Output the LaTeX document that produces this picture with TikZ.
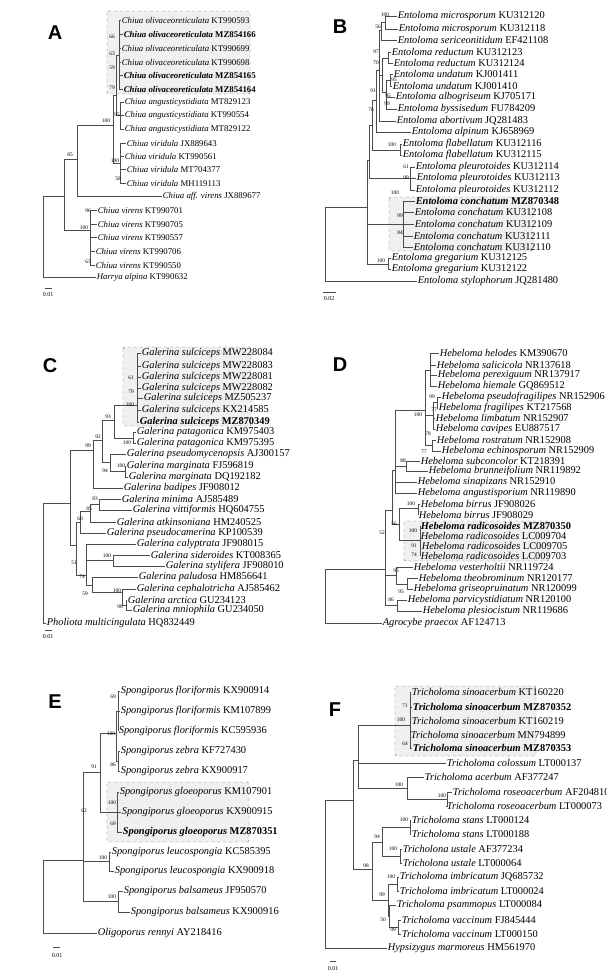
\documentclass[tikz,border=0pt]{standalone}
\usepackage{fontspec}
\setmainfont{Liberation Serif}
\newfontfamily\panelfont{Liberation Sans}
\usetikzlibrary{positioning}

\newcommand\tipsize{\fontsize{8.8}{9}\selectfont}
\newcommand\tip[5]{\node[leaf] (#1) at (#2,#3) {\textit{#4} #5};}
\newcommand\tipb[5]{\node[leaf, font=\tipsize\bfseries] (#1) at (#2,#3) {\textit{#4} #5};}
\newcommand\clade[2]{\foreach \c in {#2} {\draw[br] (#1) |- (\c);}}

\begin{document}
\begin{tikzpicture}[x=1pt, y=-1pt,
    leaf/.style={anchor=west, inner sep=0.6pt, font=\tipsize},
    bs/.style={inner sep=0pt, font=\fontsize{5.4}{6}\selectfont},
    br/.style={draw=black!70, line width=0.5pt},
    hilite/.style={draw=black!60, dashed, fill=black!6, rounded corners=1.5pt},
    letter/.style={font=\panelfont\bfseries\fontsize{20}{20}\selectfont}]
    \useasboundingbox (0,0) rectangle (606,978);

    % boxes first
    \draw[hilite] (107,11) rectangle (250,94);
    \draw[hilite] (389,197) rectangle (533,251);
    \draw[hilite] (123,347) rectangle (251,426);
    \draw[hilite] (404,521) rectangle (549,561);
    \draw[hilite] (107,782) rectangle (249,842);
    \draw[hilite] (395,686) rectangle (536,756);

    % Panel A
    \node[letter] (lA) at (55,33) {A};
    \tip{a1}{121}{20}{Chiua olivaceoreticulata}{KT990593}
    \tipb{a2}{123}{34}{Chiua olivaceoreticulata}{MZ854166}
    \tip{a3}{121}{48}{Chiua olivaceoreticulata}{KT990699}
    \tip{a4}{121}{62}{Chiua olivaceoreticulata}{KT990698}
    \tipb{a5}{123}{75}{Chiua olivaceoreticulata}{MZ854165}
    \tipb{a6}{123}{89}{Chiua olivaceoreticulata}{MZ854164}
    \tip{a7}{124}{102}{Chiua angusticystidiata}{MT829123}
    \tip{a8}{124}{115}{Chiua angusticystidiata}{KT990554}
    \tip{a9}{124}{129}{Chiua angusticystidiata}{MT829122}
    \tip{a10}{126}{143}{Chiua viridula}{JX889643}
    \tip{a11}{124}{156}{Chiua viridula}{KT990561}
    \tip{a12}{126}{169}{Chiua viridula}{MT704377}
    \tip{a13}{126}{183}{Chiua viridula}{MH119113}
    \tip{a14}{162}{196}{Chiua aff. virens}{JX889677}
    \tip{a15}{97}{210}{Chiua virens}{KT990701}
    \tip{a16}{97}{224}{Chiua virens}{KT990705}
    \tip{a17}{97}{237}{Chiua virens}{KT990557}
    \tip{a18}{95}{251}{Chiua virens}{KT990706}
    \tip{a19}{95}{265}{Chiua virens}{KT990550}
    \tip{a20}{96}{277}{Harrya alpina}{KT990632}
    \coordinate (cA1) at (119,55);
    \coordinate (cA2) at (120,115);
    \coordinate (cA3) at (116,95);
    \coordinate (cA4) at (120,163);
    \coordinate (cA5) at (113,125);
    \coordinate (cA6) at (77,159);
    \coordinate (cA7) at (90,230);
    \coordinate (cA8) at (64,196);
    \coordinate (cA0) at (43,237);
    \clade{cA1}{a1,a2,a3,a4,a5,a6}
    \clade{cA2}{a7,a8,a9}
    \clade{cA3}{cA1,cA2}
    \clade{cA4}{a10,a11,a12,a13}
    \clade{cA5}{cA3,cA4}
    \clade{cA6}{cA5,a14}
    \clade{cA7}{a15,a16,a17,a18,a19}
    \clade{cA8}{cA6,cA7}
    \clade{cA0}{cA8,a20}
    \node[bs] at (112,37) {66};
    \node[bs] at (112,54) {63};
    \node[bs] at (112,68) {59};
    \node[bs] at (112,88) {79};
    \node[bs] at (117,115) {95};
    \node[bs] at (106,121) {100};
    \node[bs] at (115,161) {100};
    \node[bs] at (118,179) {58};
    \node[bs] at (70,155) {85};
    \node[bs] at (88,211) {96};
    \node[bs] at (84,228) {100};
    \node[bs] at (88,262) {63};
    \draw[br] (45,288) -- (52,288);
    \node[bs, font=\fontsize{6}{6}\selectfont] at (48,295) {0.01};

    % Panel B
    \renewcommand\tipsize{\fontsize{10.4}{11}\selectfont}
    \node[letter] (lB) at (340,27) {B};
    \tip{b1}{397}{16}{Entoloma microsporum}{KU312120}
    \tip{b2}{398}{29}{Entoloma microsporum}{KU312118}
    \tip{b3}{397}{40}{Entoloma sericeonitidum}{EF421108}
    \tip{b4}{391}{52}{Entoloma reductum}{KU312123}
    \tip{b5}{393}{63}{Entoloma reductum}{KU312124}
    \tip{b6}{393}{74}{Entoloma undatum}{KJ001411}
    \tip{b7}{392}{86}{Entoloma undatum}{KJ001410}
    \tip{b8}{395}{97}{Entoloma albogriseum}{KJ705171}
    \tip{b9}{397}{109}{Entoloma byssisedum}{FU784209}
    \tip{b10}{396}{121}{Entoloma abortivum}{JQ281483}
    \tip{b11}{411}{132}{Entoloma alpinum}{KJ658969}
    \tip{b12}{402}{144}{Entoloma flabellatum}{KU312116}
    \tip{b13}{402}{155}{Entoloma flabellatum}{KU312115}
    \tip{b14}{415}{167}{Entoloma pleurotoides}{KU312114}
    \tip{b15}{416}{178}{Entoloma pleurotoides}{KU312113}
    \tip{b16}{415}{190}{Entoloma pleurotoides}{KU312112}
    \tipb{b17}{415}{201}{Entoloma conchatum}{MZ870348}
    \tip{b18}{414}{212}{Entoloma conchatum}{KU312108}
    \tip{b19}{414}{224}{Entoloma conchatum}{KU312109}
    \tip{b20}{413}{236}{Entoloma conchatum}{KU312111}
    \tip{b21}{413}{247}{Entoloma conchatum}{KU312110}
    \tip{b22}{391}{258}{Entoloma gregarium}{KU312125}
    \tip{b23}{391}{269}{Entoloma gregarium}{KU312122}
    \tip{b24}{417}{281}{Entoloma stylophorum}{JQ281480}
    \coordinate (cB1) at (385,22);
    \coordinate (cB2) at (381,30);
    \coordinate (cB3) at (388,58);
    \coordinate (cB4) at (390,80);
    \coordinate (cB5) at (386,92);
    \coordinate (cB6) at (382,75);
    \coordinate (cB7) at (379,70);
    \coordinate (cB8) at (376,100);
    \coordinate (cB9) at (400,150);
    \coordinate (cB10) at (372,125);
    \coordinate (cB11) at (410,178);
    \coordinate (cB12) at (403,224);
    \coordinate (cB13) at (369,160);
    \coordinate (cB14) at (367,197);
    \coordinate (cB15) at (388,264);
    \coordinate (cB16) at (367,207);
    \coordinate (cB0) at (325,207);
    \clade{cB1}{b1,b2}
    \clade{cB2}{cB1,b3}
    \clade{cB3}{b4,b5}
    \clade{cB4}{b6,b7}
    \clade{cB5}{cB4,b8,b9}
    \clade{cB6}{cB3,cB5}
    \clade{cB7}{cB2,cB6,b10}
    \clade{cB8}{cB7,b11}
    \clade{cB9}{b12,b13}
    \clade{cB10}{cB8,cB9}
    \clade{cB11}{b14,b15,b16}
    \clade{cB12}{b17,b18,b19,b20,b21}
    \clade{cB13}{cB10,cB11}
    \clade{cB14}{cB13,cB12}
    \clade{cB15}{b22,b23}
    \clade{cB16}{cB14,cB15}
    \clade{cB0}{cB16,b24}
    \node[bs] at (385,15) {100};
    \node[bs] at (378,27) {56};
    \node[bs] at (376,52) {97};
    \node[bs] at (376,63) {70};
    \node[bs] at (394,80) {95};
    \node[bs] at (388,96) {95};
    \node[bs] at (387,104) {99};
    \node[bs] at (373,91) {91};
    \node[bs] at (371,110) {76};
    \node[bs] at (392,145) {100};
    \node[bs] at (406,167) {61};
    \node[bs] at (406,178) {99};
    \node[bs] at (395,193) {100};
    \node[bs] at (400,216) {99};
    \node[bs] at (400,233) {84};
    \node[bs] at (381,261) {100};
    \draw[br] (323,292) -- (336,292);
    \node[bs, font=\fontsize{6}{6}\selectfont] at (329,299) {0.02};

    % Panel C
    \node[letter] (lC) at (50,366) {C};
    \tip{c1}{141}{353}{Galerina sulciceps}{MW228084}
    \tip{c2}{141}{366}{Galerina sulciceps}{MW228083}
    \tip{c3}{141}{377}{Galerina sulciceps}{MW228081}
    \tip{c4}{141}{388}{Galerina sulciceps}{MW228082}
    \tip{c5}{143}{398}{Galerina sulciceps}{MZ505237}
    \tip{c6}{141}{410}{Galerina sulciceps}{KX214585}
    \tipb{c7}{139}{422}{Galerina sulciceps}{MZ870349}
    \tip{c8}{136}{432}{Galerina patagonica}{KM975403}
    \tip{c9}{136}{443}{Galerina patagonica}{KM975395}
    \tip{c10}{126}{454}{Galerina pseudomycenopsis}{AJ300157}
    \tip{c11}{126}{466}{Galerina marginata}{FJ596819}
    \tip{c12}{128}{477}{Galerina marginata}{DQ192182}
    \tip{c13}{123}{488}{Galerina badipes}{JF908012}
    \tip{c14}{121}{499}{Galerina minima}{AJ585489}
    \tip{c15}{132}{510}{Galerina vittiformis}{HQ604755}
    \tip{c16}{116}{522}{Galerina atkinsoniana}{HM240525}
    \tip{c17}{106}{533}{Galerina pseudocamerina}{KP100539}
    \tip{c18}{136}{544}{Galerina calyptrata}{JF908015}
    \tip{c19}{150}{555}{Galerina sideroides}{KT008365}
    \tip{c20}{165}{566}{Galerina stylifera}{JF908010}
    \tip{c21}{138}{577}{Galerina paludosa}{HM856641}
    \tip{c22}{136}{589}{Galerina cephalotricha}{AJ585462}
    \tip{c23}{127}{600}{Galerina arctica}{GU234123}
    \tip{c24}{132}{610}{Galerina mniophila}{GU234050}
    \tip{c25}{46}{623}{Pholiota multicingulata}{HQ832449}
    \coordinate (cC1) at (137,405);
    \coordinate (cC2) at (133,438);
    \coordinate (cC3) at (114,420);
    \coordinate (cC4) at (125,471);
    \coordinate (cC5) at (110,462);
    \coordinate (cC6) at (102,440);
    \coordinate (cC7) at (93,450);
    \coordinate (cC8) at (99,504);
    \coordinate (cC9) at (90,511);
    \coordinate (cC10) at (80,522);
    \coordinate (cC11) at (113,560);
    \coordinate (cC12) at (86,552);
    \coordinate (cC13) at (126,605);
    \coordinate (cC14) at (122,592);
    \coordinate (cC15) at (92,585);
    \coordinate (cC16) at (86,575);
    \coordinate (cC17) at (76,545);
    \coordinate (cC18) at (70,503);
    \coordinate (cC0) at (43,503);
    \clade{cC1}{c1,c2,c3,c4,c5,c6,c7}
    \clade{cC2}{c8,c9}
    \clade{cC3}{cC1,cC2}
    \clade{cC4}{c11,c12}
    \clade{cC5}{c10,cC4}
    \clade{cC6}{cC3,cC5}
    \clade{cC7}{cC6,c13}
    \clade{cC8}{c14,c15}
    \clade{cC9}{cC8,c16}
    \clade{cC10}{cC9,c17}
    \clade{cC11}{c19,c20}
    \clade{cC12}{c18,cC11}
    \clade{cC13}{c23,c24}
    \clade{cC14}{c22,cC13}
    \clade{cC15}{c21,cC14}
    \clade{cC16}{cC12,cC15}
    \clade{cC17}{cC10,cC16}
    \clade{cC18}{cC7,cC17}
    \clade{cC0}{cC18,c25}
    \node[bs] at (131,378) {61};
    \node[bs] at (131,392) {79};
    \node[bs] at (130,405) {100};
    \node[bs] at (108,417) {93};
    \node[bs] at (127,443) {100};
    \node[bs] at (98,437) {92};
    \node[bs] at (88,446) {99};
    \node[bs] at (105,471) {94};
    \node[bs] at (121,466) {100};
    \node[bs] at (95,499) {83};
    \node[bs] at (89,509) {85};
    \node[bs] at (80,519) {60};
    \node[bs] at (74,563) {51};
    \node[bs] at (107,556) {100};
    \node[bs] at (82,577) {74};
    \node[bs] at (85,594) {59};
    \node[bs] at (117,591) {100};
    \node[bs] at (120,607) {98};
    \draw[br] (45,630) -- (52,630);
    \node[bs, font=\fontsize{6}{6}\selectfont] at (48,637) {0.01};

    % Panel D
    \node[letter] (lD) at (340,365) {D};
    \tip{d1}{439}{353}{Hebeloma helodes}{KM390670}
    \tip{d2}{436}{365}{Hebeloma salicicola}{NR137618}
    \tip{d3}{437}{375}{Hebeloma perexiguum}{NR137917}
    \tip{d4}{437}{386}{Hebeloma hiemale}{GQ869512}
    \tip{d5}{441}{397}{Hebeloma pseudofragilipes}{NR152906}
    \tip{d6}{438}{408}{Hebeloma fragilipes}{KT217568}
    \tip{d7}{435}{418}{Hebeloma limbatum}{NR152907}
    \tip{d8}{435}{429}{Hebeloma cavipes}{EU887517}
    \tip{d9}{436}{440}{Hebeloma rostratum}{NR152908}
    \tip{d10}{441}{451}{Hebeloma echinosporum}{NR152909}
    \tip{d11}{420}{461}{Hebeloma subconcolor}{KT218391}
    \tip{d12}{428}{471}{Hebeloma brunneifolium}{NR119892}
    \tip{d13}{417}{482}{Hebeloma sinapizans}{NR152910}
    \tip{d14}{417}{493}{Hebeloma angustisporium}{NR119890}
    \tip{d15}{420}{504}{Hebeloma birrus}{JF908026}
    \tip{d16}{418}{515}{Hebeloma birrus}{JF908029}
    \tipb{d17}{420}{526}{Hebeloma radicosoides}{MZ870350}
    \tip{d18}{420}{536}{Hebeloma radicosoides}{LC009704}
    \tip{d19}{421}{546}{Hebeloma radicosoides}{LC009705}
    \tip{d20}{420}{556}{Hebeloma radicosoides}{LC009703}
    \tip{d21}{413}{567}{Hebeloma vesterholtii}{NR119724}
    \tip{d22}{418}{578}{Hebeloma theobrominum}{NR120177}
    \tip{d23}{413}{589}{Hebeloma griseopruinatum}{NR120099}
    \tip{d24}{407}{600}{Hebeloma parvicystidiatum}{NR120100}
    \tip{d25}{422}{611}{Hebeloma plesiocistum}{NR119686}
    \tip{d26}{382}{623}{Agrocybe praecox}{AF124713}
    \coordinate (cD1) at (430,370);
    \coordinate (cD2) at (437,402);
    \coordinate (cD3) at (433,415);
    \coordinate (cD4) at (432,445);
    \coordinate (cD5) at (425,410);
    \coordinate (cD6) at (406,466);
    \coordinate (cD7) at (395,470);
    \coordinate (cD8) at (418,508);
    \coordinate (cD9) at (420,540);
    \coordinate (cD10) at (399,524);
    \coordinate (cD11) at (392,510);
    \coordinate (cD12) at (407,584);
    \coordinate (cD13) at (396,575);
    \coordinate (cD14) at (397,605);
    \coordinate (cD15) at (385,569);
    \coordinate (cD0) at (325,569);
    \clade{cD1}{d1,d2,d3,d4}
    \clade{cD2}{d5,d6}
    \clade{cD3}{cD2,d7,d8}
    \clade{cD4}{d9,d10}
    \clade{cD5}{cD1,cD3,cD4}
    \clade{cD6}{d11,d12}
    \clade{cD7}{cD5,cD6,d13,d14}
    \clade{cD8}{d15,d16}
    \clade{cD9}{d17,d18,d19,d20}
    \clade{cD10}{cD8,cD9}
    \clade{cD11}{cD7,cD10}
    \clade{cD12}{d22,d23}
    \clade{cD13}{d21,cD12}
    \clade{cD14}{d24,d25}
    \clade{cD15}{cD11,cD13,cD14}
    \clade{cD0}{cD15,d26}
    \node[bs] at (432,397) {99};
    \node[bs] at (434,410) {77};
    \node[bs] at (428,434) {78};
    \node[bs] at (424,452) {77};
    \node[bs] at (418,415) {100};
    \node[bs] at (403,461) {88};
    \node[bs] at (411,504) {100};
    \node[bs] at (413,531) {100};
    \node[bs] at (414,546) {91};
    \node[bs] at (414,555) {74};
    \node[bs] at (394,524) {56};
    \node[bs] at (382,533) {52};
    \node[bs] at (396,571) {95};
    \node[bs] at (401,592) {95};
    \node[bs] at (391,600) {86};

    % Panel E
    \node[letter] (lE) at (55,702) {E};
    \tip{e1}{120}{691}{Spongiporus floriformis}{KX900914}
    \tip{e2}{120}{711}{Spongiporus floriformis}{KM107899}
    \tip{e3}{118}{731}{Spongiporus floriformis}{KC595936}
    \tip{e4}{120}{751}{Spongiporus zebra}{KF727430}
    \tip{e5}{120}{771}{Spongiporus zebra}{KX900917}
    \tip{e6}{119}{792}{Spongiporus gloeoporus}{KM107901}
    \tip{e7}{121}{812}{Spongiporus gloeoporus}{KX900915}
    \tipb{e8}{122}{832}{Spongiporus gloeoporus}{MZ870351}
    \tip{e9}{111}{852}{Spongiporus leucospongia}{KC585395}
    \tip{e10}{114}{871}{Spongiporus leucospongia}{KX900918}
    \tip{e11}{123}{891}{Spongiporus balsameus}{JF950570}
    \tip{e12}{130}{912}{Spongiporus balsameus}{KX900916}
    \tip{e13}{97}{933}{Oligoporus rennyi}{AY218416}
    \coordinate (cE1) at (118,711);
    \coordinate (cE2) at (118,761);
    \coordinate (cE3) at (116,733);
    \coordinate (cE4) at (117,812);
    \coordinate (cE5) at (100,772);
    \coordinate (cE6) at (109,861);
    \coordinate (cE7) at (118,901);
    \coordinate (cE8) at (83,860);
    \coordinate (cE0) at (43,860);
    \clade{cE1}{e1,e2,e3}
    \clade{cE2}{e4,e5}
    \clade{cE3}{cE1,cE2}
    \clade{cE4}{e6,e7,e8}
    \clade{cE5}{cE3,cE4}
    \clade{cE6}{e9,e10}
    \clade{cE7}{e11,e12}
    \clade{cE8}{cE5,cE6,cE7}
    \clade{cE0}{cE8,e13}
    \node[bs] at (113,697) {69};
    \node[bs] at (111,734) {100};
    \node[bs] at (113,765) {86};
    \node[bs] at (94,767) {91};
    \node[bs] at (112,803) {100};
    \node[bs] at (113,824) {69};
    \node[bs] at (84,811) {62};
    \node[bs] at (103,858) {100};
    \node[bs] at (112,897) {100};
    \draw[br] (53,947) -- (60,947);
    \node[bs, font=\fontsize{6}{6}\selectfont] at (57,956) {0.01};

    % Panel F
    \node[letter] (lF) at (335,710) {F};
    \tip{f1}{411}{692}{Tricholoma sinoacerbum}{KT160220}
    \tipb{f2}{412}{707}{Tricholoma sinoacerbum}{MZ870352}
    \tip{f3}{411}{721}{Tricholoma sinoacerbum}{KT160219}
    \tip{f4}{410}{735}{Tricholoma sinoacerbum}{MN794899}
    \tipb{f5}{412}{748}{Tricholoma sinoacerbum}{MZ870353}
    \tip{f6}{446}{763}{Tricholoma colossum}{LT000137}
    \tip{f7}{424}{777}{Tricholoma acerbum}{AF377247}
    \tip{f8}{452}{792}{Tricholoma roseoacerbum}{AF204810}
    \tip{f9}{446}{806}{Tricholoma roseoacerbum}{LT000073}
    \tip{f10}{411}{820}{Tricholoma stans}{LT000124}
    \tip{f11}{411}{834}{Tricholoma stans}{LT000188}
    \tip{f12}{402}{849}{Tricholona ustale}{AF377234}
    \tip{f13}{402}{863}{Tricholona ustale}{LT000064}
    \tip{f14}{399}{877}{Tricholoma imbricatum}{JQ685732}
    \tip{f15}{399}{891}{Tricholoma imbricatum}{LT000024}
    \tip{f16}{396}{905}{Tricholoma psammopus}{LT000084}
    \tip{f17}{401}{920}{Tricholoma vaccinum}{FJ845444}
    \tip{f18}{401}{934}{Tricholoma vaccinum}{LT000150}
    \tip{f19}{387}{948}{Hypsizygus marmoreus}{HM561970}
    \coordinate (cF1) at (410,725);
    \coordinate (cF2) at (447,799);
    \coordinate (cF3) at (407,788);
    \coordinate (cF4) at (358,760);
    \coordinate (cF5) at (410,827);
    \coordinate (cF6) at (400,856);
    \coordinate (cF7) at (382,842);
    \coordinate (cF8) at (397,884);
    \coordinate (cF9) at (398,927);
    \coordinate (cF10) at (389,916);
    \coordinate (cF11) at (388,900);
    \coordinate (cF12) at (372,869);
    \coordinate (cF13) at (353,800);
    \coordinate (cF0) at (325,800);
    \clade{cF1}{f1,f2,f3,f4,f5}
    \clade{cF2}{f8,f9}
    \clade{cF3}{f7,cF2}
    \clade{cF4}{cF1,f6,cF3}
    \clade{cF5}{f10,f11}
    \clade{cF6}{f12,f13}
    \clade{cF7}{cF5,cF6}
    \clade{cF8}{f14,f15}
    \clade{cF9}{f17,f18}
    \clade{cF10}{f16,cF9}
    \clade{cF11}{cF8,cF10}
    \clade{cF12}{cF7,cF11}
    \clade{cF13}{cF4,cF12}
    \clade{cF0}{cF13,f19}
    \node[bs] at (405,706) {71};
    \node[bs] at (401,720) {100};
    \node[bs] at (405,744) {64};
    \node[bs] at (399,785) {100};
    \node[bs] at (442,796) {100};
    \node[bs] at (404,820) {100};
    \node[bs] at (393,849) {100};
    \node[bs] at (377,837) {94};
    \node[bs] at (391,877) {100};
    \node[bs] at (382,895) {99};
    \node[bs] at (383,920) {50};
    \node[bs] at (393,930) {99};
    \node[bs] at (366,866) {98};
    \draw[br] (330,961) -- (336,961);
    \node[bs, font=\fontsize{6}{6}\selectfont] at (333,969) {0.01};
\end{tikzpicture}
\end{document}
